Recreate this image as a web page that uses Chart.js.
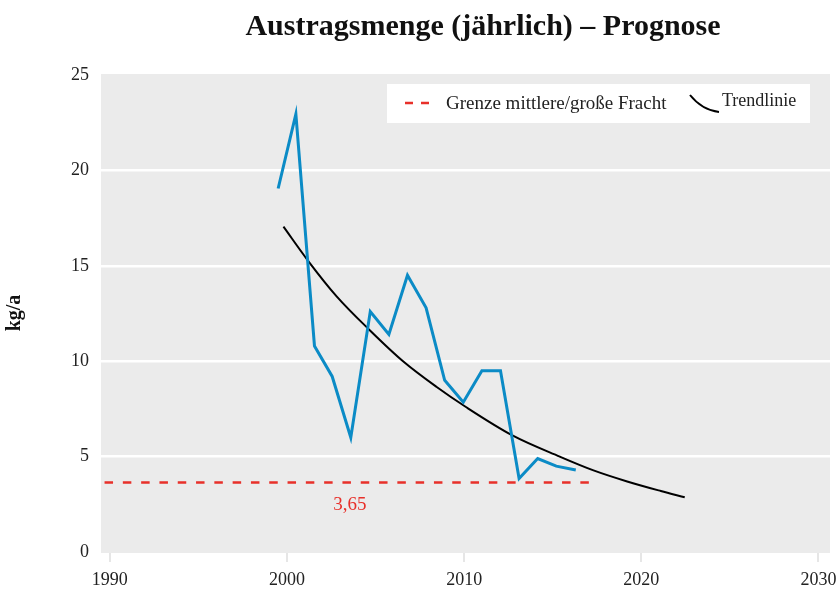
<!DOCTYPE html>
<html>
<head>
<meta charset="utf-8">
<script src="https://cdn.jsdelivr.net/npm/chart.js@4"></script>
<style>
  html, body { margin: 0; padding: 0; background: #fff; }
  #wrap { width: 836px; height: 589px; }
</style>
</head>
<body>
<div id="wrap"><canvas id="chart" width="836" height="589"></canvas></div>
<script>
// Messwerte (Jahresfracht)
const years = [1999.5, 2000.5, 2001.55, 2002.55, 2003.6, 2004.7, 2005.75, 2006.8, 2007.85, 2008.9,
               2009.95, 2011.0, 2012.05, 2013.1, 2014.15, 2015.2, 2016.3];
const values = [19.05, 22.95, 10.8, 9.2, 6.0, 12.6, 11.4, 14.5, 12.8, 9.0,
                7.85, 9.5, 9.5, 3.85, 4.9, 4.5, 4.3];

// Trendlinie
const trendYears = [1999.8, 2001.2, 2002.8, 2004.7, 2006.55, 2008.45, 2010.1, 2012.75, 2015.4, 2017.3, 2019.2, 2021.1, 2022.45];
const trendValues = [17.05, 15.25, 13.4, 11.6, 10.0, 8.65, 7.6, 6.1, 5.0, 4.28, 3.7, 3.2, 2.87];

// Grenze mittlere/große Fracht
const limitValue = 3.65;
const limitYears = [1989.7, 2017.4];
const limitLabel = '3,65';

const xTicks = [1990, 2000, 2010, 2020, 2030];
const yTicks = [0, 5, 10, 15, 20, 25];

const titleText = 'Austragsmenge (jährlich) – Prognose';
const yTitle = 'kg/a';
const legendLimit = 'Grenze mittlere/große Fracht';
const legendTrend = 'Trendlinie';

const SERIF = '"Liberation Serif", "DejaVu Serif", serif';
const BLUE = '#0b8bc6';
const RED = '#e8302a';

const decoPlugin = {
    id: 'deco',
    beforeDraw(chart) {
        const { ctx, chartArea: a } = chart;
        ctx.save();
        ctx.fillStyle = '#ebebeb';
        ctx.fillRect(a.left, a.top, a.right - a.left, a.bottom - a.top);
        ctx.restore();
    },
    afterDraw(chart) {
        const { ctx, scales } = chart;
        const x = scales.x, y = scales.y;
        ctx.save();

        // Titel
        ctx.fillStyle = '#111';
        ctx.font = 'bold 30px ' + SERIF;
        ctx.textAlign = 'center';
        ctx.textBaseline = 'middle';
        ctx.fillText(titleText, 483, 27);

        // y-Achsentitel
        ctx.save();
        ctx.translate(15, 313);
        ctx.rotate(-Math.PI / 2);
        ctx.font = 'bold 20px ' + SERIF;
        ctx.fillText(yTitle, 0, 0);
        ctx.restore();

        // Beschriftung Grenzwert
        ctx.fillStyle = RED;
        ctx.font = '19px ' + SERIF;
        ctx.fillText(limitLabel, x.getPixelForValue(2003.55), y.getPixelForValue(2.45));

        // Legende
        ctx.fillStyle = '#fff';
        ctx.fillRect(387, 84, 423, 39);
        ctx.strokeStyle = RED;
        ctx.lineWidth = 2.5;
        ctx.setLineDash([8, 8]);
        ctx.beginPath();
        ctx.moveTo(405, 103);
        ctx.lineTo(430, 103);
        ctx.stroke();
        ctx.setLineDash([]);
        ctx.fillStyle = '#222';
        ctx.textAlign = 'left';
        ctx.font = '19px ' + SERIF;
        ctx.fillText(legendLimit, 446, 104);
        ctx.strokeStyle = '#000';
        ctx.lineWidth = 2;
        ctx.beginPath();
        ctx.moveTo(690, 95);
        ctx.quadraticCurveTo(702, 110, 719, 112);
        ctx.stroke();
        ctx.font = '18px ' + SERIF;
        ctx.fillText(legendTrend, 722, 101);

        ctx.restore();
    }
};

new Chart(document.getElementById('chart').getContext('2d'), {
    type: 'line',
    data: {
        datasets: [
            {
                label: legendLimit,
                data: limitYears.map(v => ({ x: v, y: limitValue })),
                borderColor: RED,
                borderWidth: 2.5,
                borderDash: [8.5, 9.8],
                pointRadius: 0
            },
            {
                label: 'Austragsmenge',
                data: years.map((v, i) => ({ x: v, y: values[i] })),
                borderColor: BLUE,
                borderWidth: 3,
                pointRadius: 0,
                tension: 0
            },
            {
                label: legendTrend,
                data: trendYears.map((v, i) => ({ x: v, y: trendValues[i] })),
                borderColor: '#000',
                borderWidth: 2,
                pointRadius: 0,
                cubicInterpolationMode: 'monotone'
            }
        ]
    },
    options: {
        responsive: false,
        animation: false,
        layout: { padding: { top: 74, right: 6, left: 0, bottom: 0 } },
        plugins: {
            legend: { display: false },
            title: { display: false },
            tooltip: { enabled: false }
        },
        scales: {
            x: {
                type: 'linear',
                min: 1989.5,
                max: 2030.65,
                afterBuildTicks: s => { s.ticks = xTicks.map(v => ({ value: v })); },
                afterFit: s => { s.height = 36; s.paddingLeft = 0; s.paddingRight = 0; },
                border: { display: false },
                grid: { drawOnChartArea: false, drawTicks: true, tickLength: 9, lineWidth: 2, color: '#e6e6e6' },
                ticks: { color: '#222', font: { family: SERIF, size: 18 }, padding: 7, maxRotation: 0,
                         callback: v => String(v) }
            },
            y: {
                min: -0.05,
                max: 25.05,
                afterBuildTicks: s => { s.ticks = yTicks.map(v => ({ value: v })); },
                afterFit: s => { s.width = 101; s.paddingTop = 0; s.paddingBottom = 0; },
                border: { display: false },
                grid: {
                    drawTicks: false,
                    lineWidth: 2.5,
                    color: c => (c.tick && c.tick.value > 0 && c.tick.value < 25) ? '#ffffff' : 'rgba(0,0,0,0)'
                },
                ticks: { color: '#222', font: { family: SERIF, size: 18 }, padding: 12 }
            }
        }
    },
    plugins: [decoPlugin]
});
</script>
</body>
</html>
